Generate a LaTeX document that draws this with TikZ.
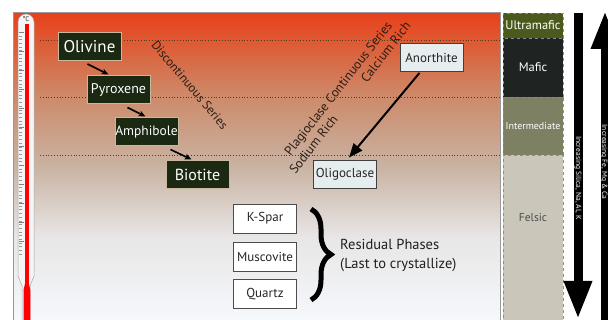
\documentclass[tikz,border=0pt]{standalone}
\usepackage{fontspec}
\setmainfont{PT Sans}
\usetikzlibrary{arrows.meta,positioning,decorations.pathreplacing}
\definecolor{grTop}{HTML}{E8411A}
\definecolor{grUp}{HTML}{DD5C36}
\definecolor{grHigh}{HTML}{CD8A6A}
\definecolor{grMid}{HTML}{C9B3A2}
\definecolor{grLow}{HTML}{E8E6E6}
\definecolor{grBot}{HTML}{F5F8FC}
\definecolor{mineralFill}{HTML}{1B2812}
\definecolor{mineralLine}{HTML}{C8B8A0}
\definecolor{plagFill}{HTML}{E6EDEF}
\definecolor{ultraCol}{HTML}{4B5A1C}
\definecolor{maficCol}{HTML}{1F2422}
\definecolor{interCol}{HTML}{7D8062}
\definecolor{felsicCol}{HTML}{CBC6BA}
\definecolor{inkCol}{HTML}{2A1E16}
\pgfdeclareverticalshading{magma}{100bp}{color(0bp)=(grBot); color(25bp)=(grBot); color(38.5bp)=(grLow); color(50bp)=(grMid); color(61.5bp)=(grHigh); color(70bp)=(grUp); color(75bp)=(grTop); color(100bp)=(grTop)}

\begin{document}
\begin{tikzpicture}[
    x=1pt, y=-1pt,
    mineral/.style={rectangle, draw=mineralLine, line width=1pt, fill=mineralFill, text=white, minimum width=63pt, minimum height=28pt, inner sep=0pt, font=\fontsize{13.5}{15}\selectfont},
    plag/.style={rectangle, draw=black!75, line width=0.8pt, fill=plagFill, text=black!85, minimum width=63pt, minimum height=28pt, inner sep=0pt, font=\fontsize{13}{15}\selectfont},
    residual/.style={rectangle, draw=black!70, line width=0.8pt, fill=white, text=black!85, minimum width=63pt, minimum height=29pt, inner sep=0pt, font=\fontsize{13}{15}\selectfont},
    zone/.style={rectangle, draw=black!45, dashed, line width=0.4pt, minimum width=60pt, inner sep=0pt, font=\fontsize{12.5}{14}\selectfont},
    arrow/.style={-{Stealth[length=7pt,width=6pt]}, line width=1.6pt, black},
    bigarrow/.style={-{Triangle[length=38pt,width=26pt]}, line width=9pt, black},
    level/.style={dotted, line width=0.8pt, black!55!brown}
]
\useasboundingbox (0,0) rectangle (608,320);
\clip (0,0) rectangle (608,320);

% Fond en degrade
\shade[shading=magma] (13,13) rectangle (500,320);
\draw[black!40, line width=1pt] (13,320) -- (13,13) -- (500,13) -- (500,320);

% Niveaux
\foreach \yy in {40,97,155}
    \draw[level] (40,\yy) -- (500,\yy);

% Thermometre
\draw[black!35, fill=black!4, line width=0.5pt] (22,322) -- (22,286) -- (18,276) -- (18,22) arc(180:360:8) -- (34,276) -- (30,286) -- (30,322);
\foreach \yy in {32,35.7,...,256}
    \draw[black!40, line width=0.3pt] (19,\yy) -- ++(3,0);
\foreach \yy in {32,51,...,256}
    \draw[black!50, line width=0.4pt] (19,\yy) -- ++(5,0);
\fill[red] (25.4,24) rectangle (28.6,284);
\fill[red] (25.4,282) -- (23.5,290) -- (23.5,322) -- (30.3,322) -- (30.3,290) -- (28.6,282) -- cycle;
\node[font=\fontsize{7}{8}\selectfont, text=black!80, inner sep=0pt] (degc) at (26,19) {°C};

% Serie discontinue
\node[mineral, font=\fontsize{17}{19}\selectfont] (olivine) at (89.5,46.5) {Olivine};
\node[mineral, font=\fontsize{14}{16}\selectfont] (pyroxene) at (118.5,90) {Pyroxene};
\node[mineral] (amphibole) at (146.5,132) {Amphibole};
\node[mineral, font=\fontsize{16}{18}\selectfont] (biotite) at (197.5,175) {Biotite};

\draw[arrow] ([xshift=-2pt,yshift=-3pt]olivine.south) -- ([xshift=-10pt,yshift=1pt]pyroxene.north);
\draw[arrow] ([xshift=9pt,yshift=-3pt]pyroxene.south) -- ([xshift=-1pt,yshift=1pt]amphibole.north);
\draw[arrow] ([xshift=24pt,yshift=-3pt]amphibole.south) -- ([xshift=-6pt,yshift=1pt]biotite.north);

\node[rotate=-50, text=inkCol, font=\fontsize{12.5}{14}\selectfont] (disc) at (190,85) {Discontinuous Series};

% Serie continue
\node[plag] (anorthite) at (431.5,57.5) {Anorthite};
\node[plag] (oligoclase) at (345,174) {Oligoclase};
\draw[-{Triangle[length=14pt,width=11pt]}, line width=2pt, black] ([xshift=-12pt,yshift=-1pt]anorthite.south) -- ([xshift=4pt,yshift=2pt]oligoclase.north);

\node[rotate=52, text=inkCol, align=center, inner sep=0pt, font=\fontsize{13}{15}\selectfont] (plagio) at (344,93) {Plagioclase Continuous Series\\\makebox[188pt]{Sodium Rich\hfill Calcium Rich}};

% Phases residuelles
\node[residual] (kspar) at (265,218.5) {K-Spar};
\node[residual] (muscovite) at (265,256.5) {Muscovite};
\node[residual] (quartz) at (265,294) {Quartz};
\coordinate (braceTop) at (311,209);
\coordinate (braceBot) at (311,300);
\draw[decorate, decoration={brace, amplitude=20pt}, line width=5pt, black] (braceTop) -- (braceBot);
\node[anchor=west, align=left, text=black!88, inner sep=0pt, font=\fontsize{14.5}{19}\selectfont] (resid) at (340,255) {Residual Phases\\(Last to crystallize)};

% Colonne des types de roche
\node[zone, fill=ultraCol, minimum height=25pt, text=white] (ultra) at (533,25.5) {Ultramafic};
\node[zone, fill=maficCol, minimum height=59pt, text=white] (mafic) at (533,67.5) {Mafic};
\node[zone, fill=interCol, minimum height=58pt, text=white!90, font=\fontsize{10}{12}\selectfont] (inter) at (533,126) {Intermediate};
\node[zone, fill=felsicCol, minimum height=170pt] (felsic) at (533,240) {};
\node[text=black!70, font=\fontsize{11.5}{13}\selectfont] (felsicLab) at (533,217) {Felsic};

% Fleches de composition
\coordinate (silTop) at (578,13);
\coordinate (silBot) at (578,319);
\draw[bigarrow] (silTop) -- (silBot);
\node[rotate=-90, text=white, inner sep=0pt, font=\fontsize{7.5}{9}\selectfont] (silLab) at (578,178) {Increasing Silica, Na, Al, K};
\coordinate (feBot) at (605,330);
\coordinate (feTop) at (605,11);
\draw[bigarrow] (feBot) -- (feTop);
\node[rotate=-90, text=white, inner sep=0pt, font=\fontsize{7.5}{9}\selectfont] (feLab) at (604,162) {Increasing Fe, Mg \& Ca};

\end{tikzpicture}
\end{document}
